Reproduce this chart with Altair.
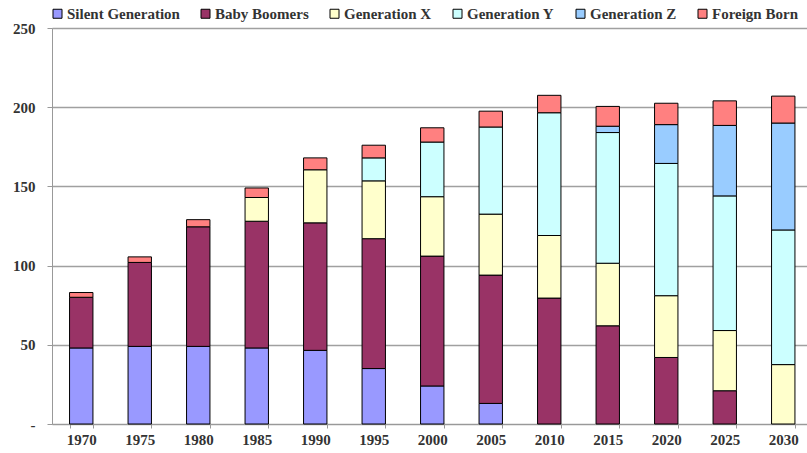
import altair as alt
import pandas as pd

years = ["1970", "1975", "1980", "1985", "1990", "1995", "2000", "2005",
         "2010", "2015", "2020", "2025", "2030"]
series = ["Silent Generation", "Baby Boomers", "Generation X",
          "Generation Y", "Generation Z", "Foreign Born"]
colors = ["#9999FF", "#993366", "#FFFFCC", "#CCFFFF", "#99CCFF", "#FF8080"]

silent = [48, 49, 49, 48, 46.5, 35, 24, 13, 0, 0, 0, 0, 0]
boomers = [32, 53, 75.5, 80, 80.5, 82, 82, 81, 79.5, 62, 42, 21, 0]
gen_x = [0, 0, 0, 15, 33.5, 36.5, 37.5, 38.5, 39.5, 39.5, 39, 38, 37.5]
gen_y = [0, 0, 0, 0, 0, 14.5, 34.5, 55, 77.5, 82.5, 83.5, 85, 85]
gen_z = [0, 0, 0, 0, 0, 0, 0, 0, 0, 4, 24.5, 44.5, 67.5]
foreign = [3, 3.5, 4.5, 6, 7.5, 8, 9, 10, 11, 12.5, 13.5, 15.5, 17]

values = [silent, boomers, gen_x, gen_y, gen_z, foreign]
rows = []
for si, (name, vals) in enumerate(zip(series, values)):
    for y, v in zip(years, vals):
        if v > 0:
            rows.append({"year": y, "series": name, "value": v, "idx": si})
df = pd.DataFrame(rows)

font = "Times New Roman, Liberation Serif, serif"

chart = alt.Chart(df).mark_bar(stroke="black", strokeWidth=1).encode(
    x=alt.X("year:O", title=None, sort=years,
            scale=alt.Scale(paddingInner=0.6, paddingOuter=0.3,
                            range=[0, 760.5]),
            axis=alt.Axis(labelAngle=0, labelFont=font, labelFontSize=15,
                          labelFontWeight="bold", labelColor="#333333",
                          labelPadding=4, tickBand="extent", tickSize=4,
                          tickColor="#999999", domainColor="#999999",
                          grid=False)),
    y=alt.Y("value:Q", title=None, stack="zero",
            scale=alt.Scale(domain=[0, 250], nice=False),
            axis=alt.Axis(values=[0, 50, 100, 150, 200, 250],
                          labelExpr="datum.value == 0 ? '-' : datum.label",
                          labelFont=font, labelFontSize=15,
                          labelFontWeight="bold", labelColor="#333333",
                          labelPadding=12, tickSize=5, tickColor="#999999",
                          domainColor="#999999", gridColor="#a0a0a0",
                          gridWidth=1.5)),
    color=alt.Color("series:N", scale=alt.Scale(domain=series, range=colors),
                    legend=alt.Legend(title=None, orient="none", legendX=-2,
                                      legendY=-22, direction="horizontal",
                                      columns=6, symbolType="square",
                                      symbolSize=81, symbolStrokeColor="black",
                                      symbolStrokeWidth=1, symbolOpacity=1,
                                      labelFont=font, labelFontSize=15,
                                      labelFontWeight="bold",
                                      labelColor="#333333", labelOffset=2,
                                      columnPadding=18, labelLimit=300)),
    order=alt.Order("idx:Q", sort="ascending"),
    tooltip=["year", "series", "value"],
).properties(
    width=755, height=396,
    padding={"left": 52, "top": 28, "right": 0, "bottom": 29},
    autosize=alt.AutoSizeParams(type="none"),
).configure_view(stroke=None).configure(background="white")

chart.save("out.html", embed_options={"renderer": "svg", "actions": False})
